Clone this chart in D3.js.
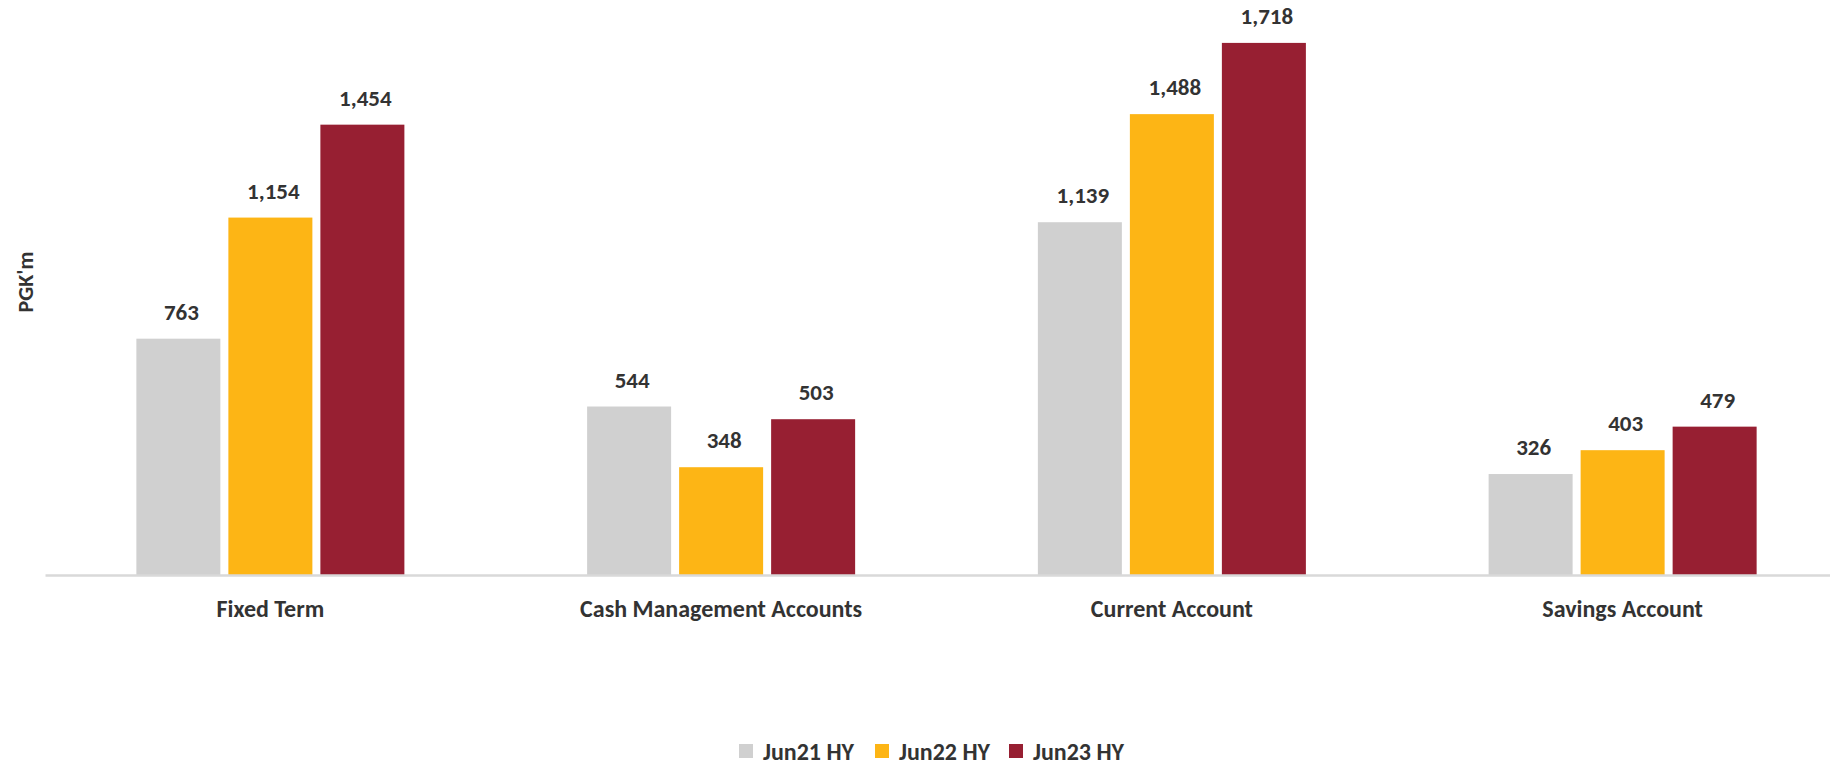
<!DOCTYPE html>
<html><head><meta charset="utf-8">
<script src="https://cdn.jsdelivr.net/npm/d3@7"></script>
<style>
html,body{margin:0;padding:0;background:#fff;}
svg{display:block;font-family:Carlito,Calibri,Lato,"Open Sans",sans-serif;}
</style></head>
<body><svg id="chart" width="1830" height="765"></svg>
<script>
const categories = ["Fixed Term","Cash Management Accounts","Current Account","Savings Account"];
const seriesNames = ["Jun21 HY","Jun22 HY","Jun23 HY"];
const jun21 = [763,544,1139,326];
const jun22 = [1154,348,1488,403];
const jun23 = [1454,503,1718,479];
const colors = ["#D0D0D0","#FDB515","#971F32"];
const seriesValues = [jun21,jun22,jun23];

const svg = d3.select("#chart");
const plot = {left:45, right:1848, top:17.5, bottom:575};

const x0 = d3.scaleBand().domain(categories).range([plot.left, plot.right])
  .paddingInner(0.4054).paddingOuter(0.2027);
const x1 = d3.scaleBand().domain(seriesNames).range([0, x0.bandwidth()])
  .paddingInner(0.087).paddingOuter(0);
const y = d3.scaleLinear().domain([0,1800]).range([plot.bottom, plot.top]);
const color = d3.scaleOrdinal().domain(seriesNames).range(colors);
const fmt = d3.format(",");

const rows = [];
categories.forEach((c,i)=>seriesNames.forEach((s,j)=>rows.push({c,s,v:seriesValues[j][i]})));

svg.append("g").selectAll("rect").data(rows).join("rect")
  .attr("x",d=>x0(d.c)+x1(d.s))
  .attr("y",d=>y(d.v))
  .attr("width",x1.bandwidth())
  .attr("height",d=>y(0)-y(d.v))
  .attr("fill",d=>color(d.s));

svg.append("g").selectAll("text").data(rows).join("text")
  .attr("x",d=>x0(d.c)+x1(d.s)+x1.bandwidth()/2+3)
  .attr("y",d=>y(d.v)-19)
  .attr("text-anchor","middle")
  .attr("font-size",23).attr("font-weight","bold").attr("fill","#333")
  .text(d=>fmt(d.v));

const xAxis = d3.axisBottom(x0).tickSize(0).tickPadding(0);
const ax = svg.append("g").attr("transform",`translate(0,${plot.bottom})`).call(xAxis);
ax.select(".domain").attr("stroke","#D9D9D9").attr("stroke-width",2.5);
ax.selectAll(".tick text").attr("dy",null).attr("y",42)
  .attr("font-size",24).attr("font-weight","bold").attr("fill","#333")
  .attr("font-family","Carlito,Calibri,Lato,'Open Sans',sans-serif");

svg.append("text").attr("transform","translate(33,282) rotate(-90)")
  .attr("text-anchor","middle").attr("font-size",22).attr("font-weight","bold").attr("fill","#333")
  .text("PGK'm");

const legendX = [739,875,1009];
const lg = svg.append("g").selectAll("g").data(seriesNames).join("g")
  .attr("transform",(d,i)=>`translate(${legendX[i]},751)`);
lg.append("rect").attr("x",0).attr("y",-7).attr("width",14).attr("height",14).attr("fill",d=>color(d));
lg.append("text").attr("x",24).attr("y",8.5).attr("font-size",24).attr("font-weight","bold").attr("fill","#333").text(d=>d);
</script></body></html>
